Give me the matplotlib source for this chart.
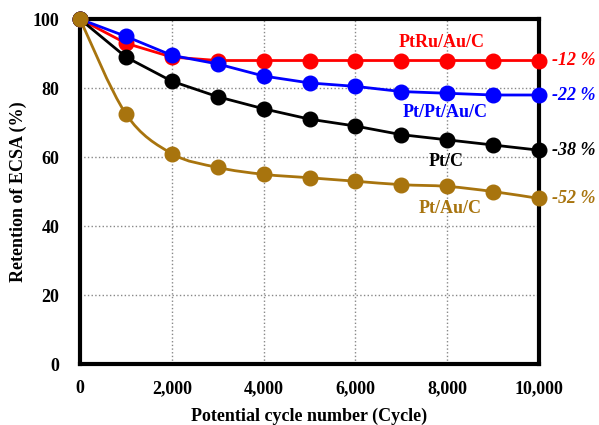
import matplotlib
matplotlib.use('Agg')
import matplotlib.pyplot as plt
import numpy as np
from matplotlib.path import Path
from matplotlib.patches import PathPatch
from matplotlib.ticker import FuncFormatter

cycles = [0, 1000, 2000, 3000, 4000, 5000, 6000, 7000, 8000, 9000, 10000]
ptru_au_c = [100, 93, 89, 88, 88, 88, 88, 88, 88, 88, 88]
pt_pt_au_c = [100, 95, 89.5, 87, 83.5, 81.5, 80.5, 79, 78.5, 78, 78]
pt_c = [100, 89, 82, 77.5, 74, 71, 69, 66.5, 65, 63.5, 62]
pt_au_c = [100, 72.5, 61, 57, 55, 54, 53, 52, 51.5, 50, 48]

series = [
    ('PtRu/Au/C', ptru_au_c, '#ff0000', '-12 %', False),
    ('Pt/Pt/Au/C', pt_pt_au_c, '#0000ff', '-22 %', False),
    ('Pt/C', pt_c, '#000000', '-38 %', False),
    ('Pt/Au/C', pt_au_c, '#a8740e', '-52 %', True),
]
# label positions (x, y) next to each curve
name_pos = [(7870, 93.3), (7950, 72.8), (7970, 58.6), (8060, 45.2)]


def smooth_path(xs, ys):
    # Catmull-Rom style bezier through the data points
    p = np.column_stack([xs, ys]).astype(float)
    verts = [p[0]]
    codes = [Path.MOVETO]
    for i in range(len(p) - 1):
        p0 = p[max(i - 1, 0)]
        p3 = p[min(i + 2, len(p) - 1)]
        c1 = p[i] + (p[i + 1] - p0) / 6
        c2 = p[i + 1] - (p3 - p[i]) / 6
        verts += [c1, c2, p[i + 1]]
        codes += [Path.CURVE4] * 3
    return Path(verts, codes)


plt.rcParams['font.family'] = ['Liberation Serif', 'DejaVu Serif']
plt.rcParams['font.weight'] = 'bold'

fig = plt.figure(figsize=(5.99, 4.25), dpi=100)
ax = fig.add_axes([0.1336, 0.1435, 0.7663, 0.8115])

for (name, vals, col, pct, smooth), (nx, ny) in zip(series, name_pos):
    if smooth:
        ax.add_patch(PathPatch(smooth_path(cycles, vals), fill=False,
                               edgecolor=col, lw=2, zorder=3))
        ax.plot(cycles, vals, 'o', color=col, ms=10.5, clip_on=False, zorder=3)
    else:
        ax.plot(cycles, vals, '-o', color=col, lw=2, ms=10.5, clip_on=False, zorder=3)
    ax.text(nx, ny, name, color=col, fontsize=13, fontweight='bold',
            ha='center', va='center')
    ax.text(10290, vals[-1], pct, color=col, fontsize=13, fontweight='bold',
            style='italic', ha='left', va='center')

ax.set_xlim(0, 10000)
ax.set_ylim(0, 100)
ax.set_xticks(range(0, 10001, 2000))
ax.set_yticks(range(0, 101, 20))
ax.xaxis.set_major_formatter(FuncFormatter(lambda v, p: f'{int(v):,}'))
ax.tick_params(length=0, labelsize=13)
ax.tick_params(axis='x', pad=11.5)
ax.tick_params(axis='y', pad=15)
for lab in ax.get_xticklabels() + ax.get_yticklabels():
    lab.set_fontweight('bold')
ax.grid(True, ls=':', color='#888888', lw=1)
for s in ax.spines.values():
    s.set_linewidth(3)

ax.set_xlabel('Potential cycle number (Cycle)', fontsize=13, fontweight='bold', labelpad=8)
ax.set_ylabel('Retention of ECSA (%)', fontsize=13, fontweight='bold', labelpad=4)

plt.savefig('out.png', dpi=100)
